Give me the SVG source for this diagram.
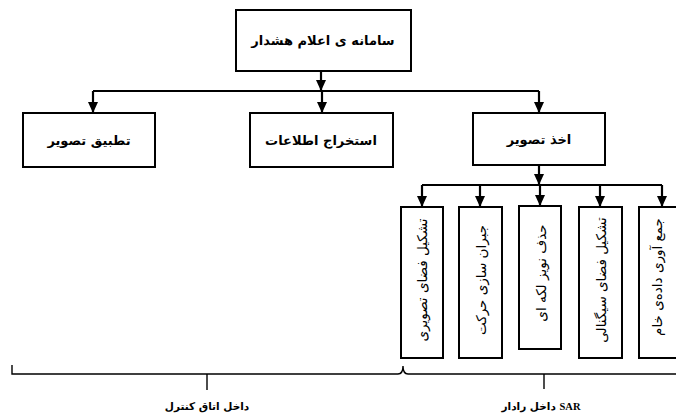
<svg xmlns="http://www.w3.org/2000/svg" width="676" height="414" viewBox="0 0 676 414">
<style>
.box{fill:#fff;stroke:#000;stroke-width:2}
.ln{fill:none;stroke:#000;stroke-width:2.2}
.br{fill:none;stroke:#000;stroke-width:1.4}
.t{font-family:"DejaVu Sans",sans-serif;font-weight:bold;font-size:13px;text-anchor:middle;fill:#000}
.v{font-family:"DejaVu Sans",sans-serif;font-size:13.5px;text-anchor:middle;fill:#000}
.s{font-family:"DejaVu Sans","Liberation Serif",serif;font-weight:bold;font-size:10.5px;text-anchor:middle;fill:#000}
</style>
<defs>
<marker id="ah" markerUnits="userSpaceOnUse" markerWidth="12" markerHeight="12" viewBox="0 0 12 12" refX="11" refY="6" orient="auto">
<path d="M0 1 L11 6 L0 11 Z" fill="#000"/>
</marker>
</defs>
<g id="connectors">
<path class="ln" d="M321 71 V91" marker-end="url(#ah)"/>
<path class="ln" d="M93 91 H539"/>
<path class="ln" d="M93 91 V113" marker-end="url(#ah)"/>
<path class="ln" d="M322 91 V113" marker-end="url(#ah)"/>
<path class="ln" d="M539 91 V113" marker-end="url(#ah)"/>
<path class="ln" d="M539 165 V185" marker-end="url(#ah)"/>
<path class="ln" d="M422 185 H662"/>
<path class="ln" d="M422 185 V207" marker-end="url(#ah)"/>
<path class="ln" d="M480 185 V207" marker-end="url(#ah)"/>
<path class="ln" d="M540 185 V206" marker-end="url(#ah)"/>
<path class="ln" d="M600 185 V207" marker-end="url(#ah)"/>
<path class="ln" d="M662 185 V207" marker-end="url(#ah)"/>
</g>
<g id="n-top"><rect class="box" x="236" y="10" width="175" height="61"/><text class="t" x="323" y="45" font-size="14">سامانه ی اعلام هشدار</text></g>
<g id="n-tatbigh"><rect class="box" x="23" y="113" width="132" height="54"/><text class="t" x="89" y="145">تطبیق تصویر</text></g>
<g id="n-estekhraj"><rect class="box" x="250" y="113" width="143" height="54"/><text class="t" x="321" y="145">استخراج اطلاعات</text></g>
<g id="n-akhz"><rect class="box" x="473" y="113" width="132" height="52"/><text class="t" x="539" y="144">اخذ تصویر</text></g>
<g id="n-v1"><rect class="box" x="401" y="207" width="42" height="151"/><text class="v" transform="translate(427 280) rotate(-90)">تشکیل فضای تصویری</text></g>
<g id="n-v2"><rect class="box" x="459" y="207" width="43" height="151"/><text class="v" transform="translate(486 280) rotate(-90)">جبران سازی حرکت</text></g>
<g id="n-v3"><rect class="box" x="519" y="206" width="42" height="143"/><text class="v" transform="translate(546 273) rotate(-90)">حذف نویز لکه ای</text></g>
<g id="n-v4"><rect class="box" x="579" y="207" width="43" height="151"/><text class="v" transform="translate(606 280) rotate(-90)">تشکیل فضای سیگنالی</text></g>
<g id="n-v5"><rect class="box" x="639" y="207" width="40" height="151"/><text class="v" transform="translate(662 277) rotate(-90)">جمع آوری داده‌ی خام</text></g>
<g id="brace">
<path class="br" d="M12 365 V374 H398 Q403 374 403 366 Q403 374 408 374 H676"/>
<path class="br" d="M207 374 V390"/>
<path class="br" d="M544 374 V389"/>
<text class="s" x="207" y="410">داخل اتاق کنترل</text>
<text class="s" x="541" y="410">داخل رادار <tspan font-family="Liberation Serif">SAR</tspan></text>
</g>
</svg>
